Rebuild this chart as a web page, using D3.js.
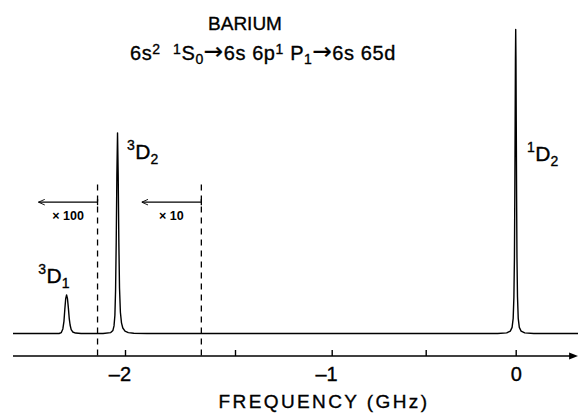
<!DOCTYPE html>
<html><head><meta charset="utf-8">
<script src="https://cdn.jsdelivr.net/npm/d3@7"></script>
<style>html,body{margin:0;padding:0;background:#fff}</style>
</head><body><svg id="chart" width="578" height="413"></svg>
<script>
// ---------- data ----------
const titleText = "BARIUM";
const subtitleParts = [
  ["6s",""],["2","sup"],["  ",""],["1","sup"],["S",""],["0","sub"],["\u2192","arrow"],["6s 6p",""],["1","sup"],[" P",""],["1","sub"],["\u2192","arrow"],["6s 65d",""]
];
const xTicks = [-2, -1.5, -1, -0.5, 0];
const xLabelTicks = [-2, -1, 0];
const xAxisTitle = "FREQUENCY  (GHz)";
// spectrum: [frequency GHz, intensity (1D2 peak = 100)]
const baselineLeft = [[-2.51, 0], [-2.30, 0]];
const peak3D1 = [[-2.29,0.3],[-2.283,1.5],[-2.278,4],[-2.274,8],[-2.270,11.5],[-2.266,12.7],[-2.262,11.5],[-2.258,8.5],[-2.254,5],[-2.250,2.8],[-2.245,1.3],[-2.238,0.5],[-2.225,0.15],[-2.20,0]];
const peak3D2 = [[-2.10,0],[-2.065,0.3],[-2.055,1],[-2.050,2.5],[-2.046,6],[-2.043,14],[-2.040,30],[-2.037,52],[-2.034,66],[-2.031,52],[-2.028,30],[-2.025,15],[-2.021,7],[-2.016,3.5],[-2.010,1.8],[-2.0,0.8],[-1.985,0.3],[-1.96,0.1],[-1.9,0]];
const peak1D2 = [[-0.1,0],[-0.05,0.2],[-0.03,0.8],[-0.02,2],[-0.014,5],[-0.010,12],[-0.007,25],[-0.005,45],[-0.003,70],[-0.0015,90],[0,100],[0.0015,90],[0.003,70],[0.005,45],[0.007,25],[0.010,12],[0.014,5],[0.02,2],[0.03,0.8],[0.05,0.2],[0.1,0]];
const baselineRight = [[0.345, 0]];
// peak labels: [sup, main, sub, freq of text start, intensity of baseline]
const peakLabels = [["3","D","1",-2.395,16.6],["3","D","2",-1.991,57.4],["1","D","2",0.063,56.7]];
// gain change markers
const dashFreqs = [-2.125, -1.653];
const arrowEnds = [-2.394, -1.924];
const gainLabels = ["\u00d7 100", "\u00d7 10"];
const gainLabelFreqs = [-2.259, -1.789];
const dashRange = [49, -7.4];
const arrowLevel = 43.2;
const gainLabelLevel = 37.3;

// ---------- scales ----------
const svg = d3.select("#chart");
const x = d3.scaleLinear()
  .domain([-2.51, -2, -1.5, -1, -0.5, 0, 0.345])
  .range([13, 125, 235, 331.7, 425.7, 515.7, 578]);
const y = d3.scaleLinear().domain([0, 100]).range([333.5, 29.5]);
const axisY = 356;
const font = "'Liberation Sans', Arial, sans-serif";
const ink = sel => sel.attr("fill","#000").attr("stroke","#000").attr("stroke-width",0.35);

const defs = svg.append("defs");
defs.append("marker").attr("id","open").attr("viewBox","0 0 10 10").attr("refX",10).attr("refY",5)
  .attr("markerWidth",7).attr("markerHeight",7).attr("orient","auto").attr("markerUnits","userSpaceOnUse")
  .append("path").attr("d","M1,1 L10,5 L1,9").attr("fill","none").attr("stroke","#000").attr("stroke-width",1.3);
defs.append("marker").attr("id","solid").attr("viewBox","0 0 10 10").attr("refX",1).attr("refY",5)
  .attr("markerWidth",9).attr("markerHeight",9).attr("orient","auto").attr("markerUnits","userSpaceOnUse")
  .append("path").attr("d","M0,1 L10,5 L0,9 Z").attr("fill","#000");

// ---------- spectrum ----------
const spectrum = [].concat(baselineLeft, peak3D1, peak3D2, peak1D2, baselineRight);
svg.append("path").datum(spectrum)
  .attr("d", d3.line().x(d => x(d[0])).y(d => y(d[1])))
  .attr("fill","none").attr("stroke","#000").attr("stroke-width",1.4).attr("stroke-linejoin","round");

// ---------- axis ----------
const axis = d3.axisBottom(x).tickValues(xTicks).tickSize(-6).tickPadding(11)
  .tickFormat(d => xLabelTicks.includes(d) ? (d < 0 ? "\u2013" + Math.abs(d) : String(d)) : "");
const gAxis = svg.append("g").attr("transform", `translate(0,${axisY})`).call(axis);
gAxis.select(".domain").remove();
gAxis.selectAll(".tick line").attr("stroke","#000").attr("stroke-width",1.4);
gAxis.selectAll(".tick text").call(ink).style("font-family",font).style("font-size","20px")
  .attr("dx", d => d < 0 ? "-0.28em" : 0);
svg.append("line").attr("x1", x.range()[0]).attr("x2", 570).attr("y1", axisY).attr("y2", axisY)
  .attr("stroke","#000").attr("stroke-width",1.6).attr("marker-end","url(#solid)");
svg.append("text").attr("x", 324).attr("y", 408).attr("text-anchor","middle").call(ink)
  .style("font-family",font).style("font-size","19px").style("letter-spacing","2.4px").text(xAxisTitle);

// ---------- gain markers ----------
dashFreqs.forEach((f, i) => {
  svg.append("line").attr("x1", x(f)).attr("x2", x(f)).attr("y1", y(dashRange[0])).attr("y2", y(dashRange[1]))
    .attr("stroke","#000").attr("stroke-width",1.3).attr("stroke-dasharray","6,5");
  svg.append("line").attr("x1", x(f)).attr("x2", x(arrowEnds[i])).attr("y1", y(arrowLevel)).attr("y2", y(arrowLevel))
    .attr("stroke","#000").attr("stroke-width",1.2).attr("marker-end","url(#open)");
  svg.append("line").attr("x1", x(f)).attr("x2", x(f)).attr("y1", y(arrowLevel)-3).attr("y2", y(arrowLevel)+3)
    .attr("stroke","#000").attr("stroke-width",1.3);
  svg.append("text").attr("x", x(gainLabelFreqs[i])).attr("y", y(gainLabelLevel)).attr("text-anchor","middle")
    .style("font-family",font).style("font-size","12.5px").style("font-weight","bold").text(gainLabels[i]);
});

// ---------- peak labels ----------
peakLabels.forEach(p => {
  const t = svg.append("text").attr("x", x(p[3])).attr("y", y(p[4])).call(ink).style("font-family",font).style("font-size","21px");
  t.append("tspan").style("font-size","14px").attr("dy","-9").text(p[0]);
  t.append("tspan").attr("dy","9").attr("dx","0.5").text(p[1]);
  t.append("tspan").style("font-size","14px").attr("dy","5").text(p[2]);
});

// ---------- titles ----------
svg.append("text").attr("x", 245).attr("y", 30).attr("text-anchor","middle").call(ink)
  .style("font-family",font).style("font-size","19px").text(titleText);
const sub = svg.append("text").attr("x", 130).attr("y", 60).call(ink).style("font-family",font).style("font-size","20px")
  .style("letter-spacing","0.6px").attr("xml:space","preserve");
let off = 0;
subtitleParts.forEach(([txt, kind]) => {
  const target = kind === "sup" ? -6 : kind === "sub" ? 4 : 0;
  const ts = sub.append("tspan").attr("dy", target - off).text(txt);
  if (kind === "sup" || kind === "sub") ts.style("font-size","14px");
  if (kind === "arrow") ts.style("font-family","'DejaVu Sans', sans-serif").style("font-size","23px").attr("dy", -1 - off);
  off = kind === "arrow" ? -1 : target;
});
</script></body></html>
